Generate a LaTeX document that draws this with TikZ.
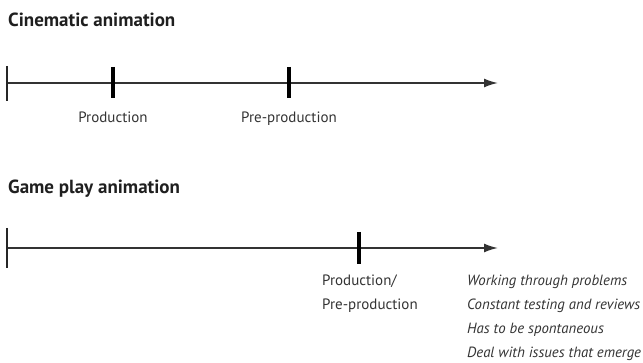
\documentclass[tikz,border=0pt]{standalone}
\usepackage{fontspec}
\setmainfont{PT Sans}
\usetikzlibrary{arrows.meta}
\begin{document}
\begin{tikzpicture}[x=1pt,y=-1pt,
  heading/.style={anchor=base west,inner sep=0pt,font=\bfseries\fontsize{19}{22}\selectfont,text=black!88},
  label/.style={anchor=base,inner sep=0pt,font=\fontsize{15}{18}\selectfont,text=black!80},
  note/.style={anchor=base west,inner sep=0pt,font=\itshape\fontsize{14.8}{18}\selectfont,text=black!80},
  timeline/.style={draw=black!80,line width=1.8pt,-{Latex[length=14pt,width=9pt]}},
  starttick/.style={draw=black!85,line width=1.1pt},
  phasetick/.style={draw=black,line width=4pt}]
\useasboundingbox (0,0) rectangle (643,363);

% Cinematic animation timeline
\node[heading] (h1) at (8,27) {Cinematic animation};
\coordinate (a0) at (7,83);
\coordinate (a1) at (498,83);
\draw[timeline] (a0) -- (a1);
\draw[starttick] (7,66) -- (7,101);
\coordinate (p1) at (113,83);
\coordinate (p2) at (289,83);
\draw[phasetick] (113,67) -- (113,98);
\draw[phasetick] (289,67) -- (289,98);
\node[label] (l1) at (113,123) {Production};
\node[label] (l2) at (289,123) {Pre-production};

% Game play animation timeline
\node[heading] (h2) at (8,194) {Game play animation};
\coordinate (b0) at (7,248);
\coordinate (b1) at (498,248);
\draw[timeline] (b0) -- (b1);
\draw[starttick] (7,228) -- (7,268);
\coordinate (p3) at (359,248);
\draw[phasetick] (359,232) -- (359,264);
\node[label,anchor=base west] (l3) at (322,286) {Production/};
\node[label,anchor=base west] (l4) at (322,310) {Pre-production};

% Characteristics of game play animation
\node[note] (n1) at (467,286) {Working through problems};
\node[note] (n2) at (467,310) {Constant testing and reviews};
\node[note] (n3) at (467,334) {Has to be spontaneous};
\node[note] (n4) at (467,358) {Deal with issues that emerge};
\end{tikzpicture}
\end{document}
